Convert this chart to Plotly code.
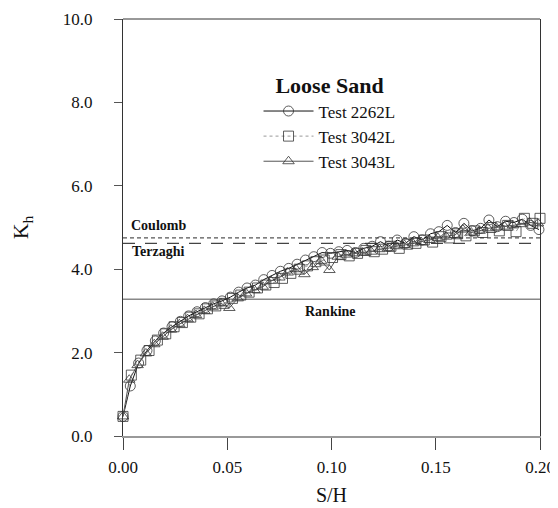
import plotly.graph_objects as go

# ---- data ----
x_2262 = [0, 0.0035, 0.0075, 0.0115, 0.0155, 0.0195, 0.0235, 0.0275, 0.0315, 0.0355,
          0.0395, 0.0435, 0.0475, 0.0515, 0.0555, 0.0595, 0.0635, 0.0675, 0.0715, 0.0755,
          0.0795, 0.0835, 0.0875, 0.0915, 0.0955, 0.0995, 0.1035, 0.1075, 0.1115, 0.1155,
          0.1195, 0.1235, 0.1275, 0.1315, 0.1355, 0.1395, 0.1435, 0.1475, 0.1515, 0.1555,
          0.1595, 0.1635, 0.1675, 0.1715, 0.1755, 0.1795, 0.1835, 0.1875, 0.1915, 0.1955, 0.1995]
k_2262 = [0.47, 1.20, 1.75, 2.05, 2.28, 2.47, 2.62, 2.75, 2.88, 2.98,
          3.08, 3.17, 3.24, 3.33, 3.45, 3.55, 3.62, 3.75, 3.85, 3.95,
          4.02, 4.12, 4.22, 4.30, 4.40, 4.38, 4.42, 4.45, 4.40, 4.50,
          4.55, 4.66, 4.55, 4.70, 4.62, 4.78, 4.70, 4.85, 4.90, 5.05,
          4.88, 5.10, 4.92, 4.98, 5.18, 5.02, 5.15, 5.12, 5.20, 5.05, 4.95]

x_3042 = [0, 0.004, 0.0085, 0.0125, 0.0165, 0.0205, 0.0245, 0.0285, 0.0325, 0.0365,
          0.0405, 0.0445, 0.0485, 0.0525, 0.0565, 0.0605, 0.0645, 0.0685, 0.0725, 0.0765,
          0.0805, 0.0845, 0.0885, 0.0925, 0.0965, 0.1005, 0.1045, 0.1085, 0.1125, 0.1165,
          0.1205, 0.1245, 0.1285, 0.1325, 0.1365, 0.1405, 0.1445, 0.1485, 0.1525, 0.1565,
          0.1605, 0.1645, 0.1685, 0.1725, 0.1765, 0.1805, 0.1845, 0.1885, 0.1925, 0.1965, 0.2000]
k_3042 = [0.47, 1.46, 1.82, 2.05, 2.30, 2.45, 2.62, 2.72, 2.85, 2.93,
          3.05, 3.12, 3.18, 3.30, 3.38, 3.45, 3.55, 3.62, 3.68, 3.78,
          3.90, 4.00, 4.08, 4.18, 4.22, 4.28, 4.35, 4.32, 4.38, 4.45,
          4.42, 4.48, 4.55, 4.50, 4.60, 4.62, 4.70, 4.65, 4.78, 4.75,
          4.85, 4.80, 4.92, 4.88, 5.00, 4.92, 5.05, 4.90, 5.22, 5.10, 5.22]

x_3043 = [0, 0.003, 0.007, 0.011, 0.015, 0.019, 0.023, 0.027, 0.031, 0.035,
          0.039, 0.043, 0.047, 0.051, 0.055, 0.059, 0.063, 0.067, 0.071, 0.075,
          0.079, 0.083, 0.087, 0.091, 0.095, 0.099, 0.103, 0.107, 0.111, 0.115,
          0.119, 0.123, 0.127, 0.131, 0.135, 0.139, 0.143, 0.147, 0.151, 0.155,
          0.159, 0.163, 0.167, 0.171, 0.175, 0.179, 0.183, 0.187, 0.191, 0.195, 0.199]
k_3043 = [0.47, 1.35, 1.70, 1.98, 2.20, 2.38, 2.55, 2.68, 2.80, 2.90,
          3.00, 3.10, 3.18, 3.07, 3.30, 3.42, 3.50, 3.58, 3.72, 3.80,
          3.92, 4.00, 3.88, 4.05, 4.20, 3.98, 4.30, 4.35, 4.38, 4.40,
          4.42, 4.48, 4.50, 4.55, 4.58, 4.62, 4.65, 4.70, 4.75, 4.78,
          4.82, 4.95, 4.88, 4.92, 4.98, 5.00, 5.02, 5.05, 5.08, 5.12, 5.10]

theory_names = ["Coulomb", "Terzaghi", "Rankine"]
theory_k = [4.75, 4.62, 3.28]
x_span = [0.0, 0.20]

x_ticks = [0.00, 0.05, 0.10, 0.15, 0.20]
x_ticklabels = ["0.00", "0.05", "0.10", "0.15", "0.20"]
y_ticks = [0, 2, 4, 6, 8, 10]
y_ticklabels = ["0.0", "2.0", "4.0", "6.0", "8.0", "10.0"]

FONT = "Liberation Serif, Times New Roman, serif"

fig = go.Figure()

# theoretical reference lines
ref_styles = {
    "Coulomb": dict(color="#555555", width=1.2, dash="4px,3px"),
    "Terzaghi": dict(color="#444444", width=1.2, dash="12px,10px"),
    "Rankine": dict(color="#888888", width=1.6, dash="solid"),
}
for name, k in zip(theory_names, theory_k):
    fig.add_trace(go.Scatter(x=x_span, y=[k, k], mode="lines",
                             line=ref_styles[name], showlegend=False,
                             hoverinfo="skip"))

series = [
    ("Test 2262L", x_2262, k_2262, "circle-open", dict(color="#111111", width=1)),
    ("Test 3042L", x_3042, k_3042, "square-open", dict(color="#999999", width=1, dash="dot")),
    ("Test 3043L", x_3043, k_3043, "triangle-up-open", dict(color="#555555", width=1)),
]
for name, xs, ys, sym, ln in series:
    fig.add_trace(go.Scatter(
        x=xs, y=ys, mode="lines+markers", name=name,
        line=ln,
        marker=dict(symbol=sym, size=10, color="#333333", line=dict(width=0.8, color="#333333")),
        cliponaxis=False,
    ))

# labels of theory lines
fig.add_annotation(x=0.0168, y=5.06, text="<b>Coulomb</b>", showarrow=False,
                   font=dict(family=FONT, size=14, color="#111"))
fig.add_annotation(x=0.0168, y=4.42, text="<b>Terzaghi</b>", showarrow=False,
                   font=dict(family=FONT, size=14, color="#111"))
fig.add_annotation(x=0.0993, y=2.98, text="<b>Rankine</b>", showarrow=False,
                   font=dict(family=FONT, size=14, color="#111"))

# top border
fig.add_shape(type="line", xref="paper", yref="paper", x0=0, x1=1, y0=1, y1=1,
              line=dict(color="#333333", width=1))

# the page body adds an 8px margin, so the figure is 8px smaller than the window
fig.update_layout(
    width=550, height=500,
    margin=dict(l=115, r=18, t=11, b=72),
    paper_bgcolor="white", plot_bgcolor="white",
    font=dict(family=FONT, size=16, color="#111"),
    showlegend=True,
    legend=dict(
        x=0.325, y=0.89, xanchor="left", yanchor="top",
        bgcolor="rgba(0,0,0,0)",
        title=dict(text="<b>Loose Sand</b>", side="top center",
                   font=dict(family=FONT, size=22, color="#111")),
        font=dict(family=FONT, size=17, color="#111"),
        itemwidth=50,
        tracegroupgap=0,
    ),
    xaxis=dict(
        range=[0, 0.20], tickvals=x_ticks, ticktext=x_ticklabels,
        showgrid=False, zeroline=False, automargin=False,
        showline=True, linecolor="#999999", linewidth=1.5, mirror=False,
        ticks="outside", ticklen=12, tickcolor="#444444", tickwidth=1,
        ticklabelstandoff=3,
        tickfont=dict(family=FONT, size=17, color="#111"),
        title=dict(text="S/H", font=dict(family=FONT, size=20, color="#111"), standoff=12),
    ),
    yaxis=dict(
        range=[0, 10], tickvals=y_ticks, ticktext=y_ticklabels,
        showgrid=False, zeroline=False, automargin=False,
        showline=True, linecolor="#333333", linewidth=1, mirror=True,
        ticks="outside", ticklen=8, tickcolor="#555555", tickwidth=1,
        ticklabelstandoff=18,
        tickfont=dict(family=FONT, size=17, color="#111"),
        title=dict(text="K<sub>h</sub>", font=dict(family=FONT, size=22, color="#111"), standoff=34),
    ),
)

fig.write_html("out.html")
